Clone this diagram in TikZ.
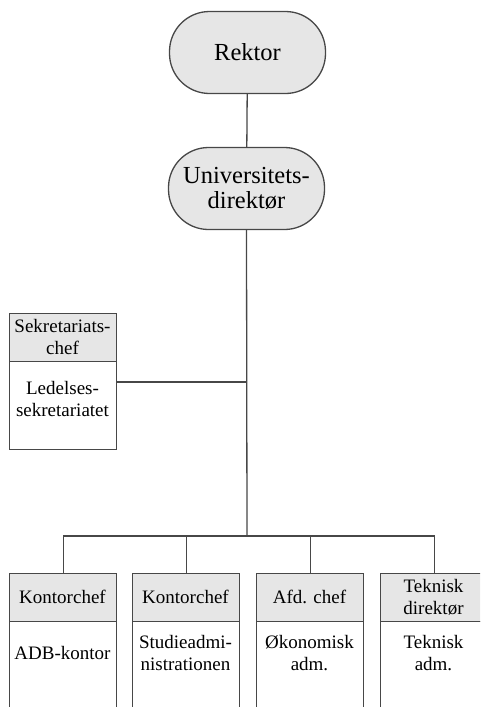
\documentclass[tikz,border=0pt]{standalone}
\usepackage{fontspec}
\setmainfont{Liberation Serif}
\usetikzlibrary{calc}
\definecolor{ln}{HTML}{474747}
\definecolor{fl}{HTML}{E6E6E6}
\begin{document}
\begin{tikzpicture}[x=1pt,y=-1pt,
  conn/.style={draw=ln,line width=1.3pt},
  stadium/.style={draw=ln,line width=1.3pt,fill=fl,rounded corners=40pt,
    minimum width=156pt,minimum height=82pt,inner sep=0pt,align=center,
    font=\fontsize{24.5}{25.5}\selectfont},
  headbox/.style={draw=ln,line width=1.3pt,fill=fl,minimum width=107pt,
    minimum height=48pt,inner sep=0pt,anchor=north west},
  bodybox/.style={draw=ln,line width=1.3pt,minimum width=107pt,
    inner sep=0pt,anchor=north west},
  small/.style={align=center,inner sep=0pt,font=\fontsize{19}{22}\selectfont}]
\useasboundingbox (0,0) rectangle (480,707);
\clip (0,0) rectangle (480,707);
% top
\node[stadium] (rek) at (247.5,52.5) {Rektor};
\node[stadium] (uni) at (246.5,188.5) {Universitets-\\direktør};
\draw[conn] (rek) -- (uni);
% secretariat
\node[headbox] (sh) at (9,313) {};
\node[bodybox,minimum height=88pt] (sb) at (9,361) {};
\node[small] (sht) at (62.5,337) {Sekretariats-\\chef};
\node[small] (sbt) at (62.5,399) {Ledelses-\\sekretariatet};
\coordinate (tj) at (247,382);
\coordinate (bus) at (247,536);
\draw[conn] (uni.south) -- (bus);
\draw[conn] (sb.east |- tj) -- (tj);
% bottom boxes
\foreach \i/\x/\h/\b in {1/9/Kontorchef/ADB-kontor,
    2/132/Kontorchef/{Studieadmi-\\nistrationen},
    3/256/Afd. chef/{Økonomisk\\adm.},
    4/380/{Teknisk\\direktør}/{Teknisk\\adm.}}{
  \node[bodybox,minimum height=120pt] (b\i) at (\x,621) {};
  \node[headbox] (h\i) at (\x,573) {};
  \node[small] (ht\i) at ($(\x,597)+(53.5,0)$) {\h};
  \node[small] (bt\i) at ($(\x,653)+(53.5,0)$) {\b};
}
\draw[conn] (h1.north) |- (bus) -| (h4.north);
\draw[conn] (h2.north) -- (h2.north |- bus);
\draw[conn] (h3.north) -- (h3.north |- bus);
\end{tikzpicture}
\end{document}
